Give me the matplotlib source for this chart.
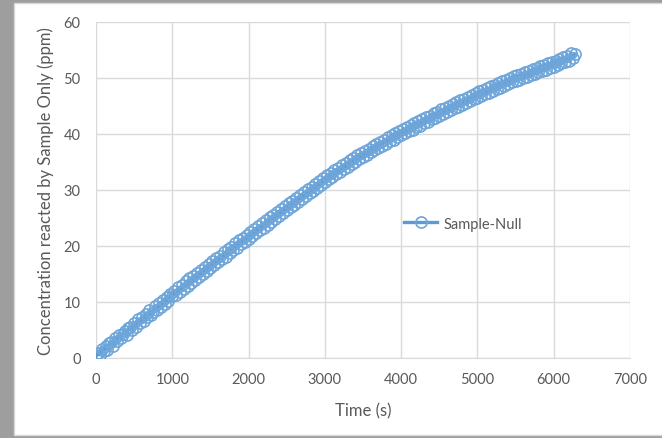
import matplotlib
matplotlib.use("Agg")
import matplotlib.pyplot as plt
from matplotlib.patches import Rectangle

# time (s) and concentration (ppm)
time_s = [0, 25, 50, 75, 100, 125, 150, 175, 200, 225,
          250, 275, 300, 325, 350, 375, 400, 425, 450, 475,
          500, 525, 550, 575, 600, 625, 650, 675, 700, 725,
          750, 775, 800, 825, 850, 875, 900, 925, 950, 975,
          1000, 1025, 1050, 1075, 1100, 1125, 1150, 1175, 1200, 1225,
          1250, 1275, 1300, 1325, 1350, 1375, 1400, 1425, 1450, 1475,
          1500, 1525, 1550, 1575, 1600, 1625, 1650, 1675, 1700, 1725,
          1750, 1775, 1800, 1825, 1850, 1875, 1900, 1925, 1950, 1975,
          2000, 2025, 2050, 2075, 2100, 2125, 2150, 2175, 2200, 2225,
          2250, 2275, 2300, 2325, 2350, 2375, 2400, 2425, 2450, 2475,
          2500, 2525, 2550, 2575, 2600, 2625, 2650, 2675, 2700, 2725,
          2750, 2775, 2800, 2825, 2850, 2875, 2900, 2925, 2950, 2975,
          3000, 3025, 3050, 3075, 3100, 3125, 3150, 3175, 3200, 3225,
          3250, 3275, 3300, 3325, 3350, 3375, 3400, 3425, 3450, 3475,
          3500, 3525, 3550, 3575, 3600, 3625, 3650, 3675, 3700, 3725,
          3750, 3775, 3800, 3825, 3850, 3875, 3900, 3925, 3950, 3975,
          4000, 4025, 4050, 4075, 4100, 4125, 4150, 4175, 4200, 4225,
          4250, 4275, 4300, 4325, 4350, 4375, 4400, 4425, 4450, 4475,
          4500, 4525, 4550, 4575, 4600, 4625, 4650, 4675, 4700, 4725,
          4750, 4775, 4800, 4825, 4850, 4875, 4900, 4925, 4950, 4975,
          5000, 5025, 5050, 5075, 5100, 5125, 5150, 5175, 5200, 5225,
          5250, 5275, 5300, 5325, 5350, 5375, 5400, 5425, 5450, 5475,
          5500, 5525, 5550, 5575, 5600, 5625, 5650, 5675, 5700, 5725,
          5750, 5775, 5800, 5825, 5850, 5875, 5900, 5925, 5950, 5975,
          6000, 6025, 6050, 6075, 6100, 6125, 6150, 6175, 6200, 6225,
          6250, 6275]
conc_ppm = [0.2, 0.9, 0.6, 1.6, 1.2, 2.1, 1.5, 2.7, 2.9, 2.2,
            3.5, 3.0, 4.1, 3.5, 4.3, 4.8, 4.1, 5.3, 5.6, 5.0,
            6.3, 5.5, 6.9, 6.2, 7.4, 6.6, 7.9, 7.3, 8.5, 7.7,
            8.2, 9.3, 8.6, 9.9, 9.1, 10.4, 9.6, 10.9, 10.2, 11.5,
            11.0, 12.0, 11.2, 12.6, 11.8, 13.1, 12.4, 13.7, 12.9, 14.2,
            13.4, 14.6, 13.9, 15.2, 14.5, 15.8, 15.0, 16.3, 15.5, 16.8,
            16.1, 17.3, 16.6, 17.9, 17.1, 18.3, 17.6, 18.9, 18.1, 19.4,
            18.7, 19.9, 19.2, 20.5, 19.7, 21.0, 20.3, 21.5, 20.8, 22.0,
            21.3, 22.5, 21.8, 23.1, 22.3, 23.6, 22.8, 24.1, 23.3, 24.6,
            23.8, 25.1, 24.3, 25.6, 24.8, 26.1, 25.4, 26.6, 25.9, 27.1,
            26.4, 27.6, 26.9, 28.1, 27.4, 28.6, 27.9, 29.1, 28.4, 29.6,
            28.9, 30.1, 29.4, 30.6, 29.9, 31.1, 30.4, 31.6, 30.9, 32.1,
            31.4, 32.6, 31.9, 33.0, 32.3, 33.5, 32.8, 33.9, 33.2, 34.4,
            33.7, 34.8, 34.1, 35.3, 34.6, 35.7, 35.0, 36.2, 35.5, 36.6,
            35.9, 37.0, 36.3, 37.4, 36.7, 37.8, 37.1, 38.2, 37.5, 38.6,
            37.9, 39.0, 38.3, 39.4, 38.7, 39.8, 39.0, 40.2, 39.4, 40.5,
            39.8, 40.9, 40.1, 41.2, 40.5, 41.6, 40.8, 41.9, 41.2, 42.3,
            41.5, 42.6, 41.9, 43.0, 42.2, 43.3, 42.6, 43.7, 42.9, 44.0,
            43.3, 44.4, 43.6, 44.7, 43.9, 45.0, 44.2, 45.3, 44.6, 45.7,
            44.9, 46.0, 45.2, 46.3, 45.5, 46.6, 45.9, 47.0, 46.2, 47.3,
            46.5, 47.6, 46.8, 47.9, 47.1, 48.2, 47.4, 48.5, 47.7, 48.8,
            48.0, 49.1, 48.3, 49.4, 48.6, 49.7, 48.9, 50.0, 49.2, 50.3,
            49.4, 50.5, 49.7, 50.8, 50.0, 51.0, 50.2, 51.3, 50.5, 51.6,
            50.8, 51.8, 51.0, 52.1, 51.3, 52.4, 51.5, 52.6, 51.8, 52.9,
            52.0, 53.1, 52.3, 53.4, 52.6, 53.7, 52.9, 54.0, 53.1, 54.5,
            53.6, 54.3]

x_ticks = [0, 1000, 2000, 3000, 4000, 5000, 6000, 7000]
y_ticks = [0, 10, 20, 30, 40, 50, 60]

plt.rcParams["font.family"] = ["Lato", "DejaVu Sans"]

W, H = 662, 439
fig = plt.figure(figsize=(W / 100, H / 100), dpi=100)
fig.patch.set_facecolor("#9e9e9e")
# white chart area on the gray backdrop
fig.patches.append(Rectangle((14 / W, 3 / H), 1, 432 / H, transform=fig.transFigure,
                             facecolor="white", edgecolor="#d9d9d9", lw=1, zorder=-5))

ax = fig.add_axes([96 / W, (H - 359) / H, 534 / W, 336 / H])
ax.set_zorder(2)
blue = "#5B9BD5"
ax.plot(time_s, conc_ppm, color=blue, lw=2.4, marker="o", ms=8,
        markerfacecolor="none", markeredgecolor="#6FA6DA", markeredgewidth=1.2,
        label="Sample-Null", zorder=3)

ax.set_xlim(0, 7000)
ax.set_ylim(0, 60)
ax.set_xticks(x_ticks)
ax.set_yticks(y_ticks)
ax.grid(True, color="#d9d9d9", lw=1)
ax.set_axisbelow(True)
for s in ax.spines.values():
    s.set_visible(False)
ax.spines["bottom"].set_visible(True)
ax.spines["bottom"].set_color("#d9d9d9")
ax.tick_params(length=0, labelsize=10.5, colors="#595959")
ax.tick_params(axis="x", pad=10)
ax.tick_params(axis="y", pad=11)

ax.set_xlabel("Time (s)", fontsize=12, color="#595959", labelpad=12)
ax.set_ylabel("Concentration reacted by Sample Only (ppm)", fontsize=12,
              color="#595959", labelpad=7)

ax.legend(loc="center left", bbox_to_anchor=(0.552, 0.40), frameon=False,
          fontsize=10.5, labelcolor="#595959", handlelength=2.3, handletextpad=0.4)

fig.savefig("out.png", dpi=100, facecolor=fig.get_facecolor())
